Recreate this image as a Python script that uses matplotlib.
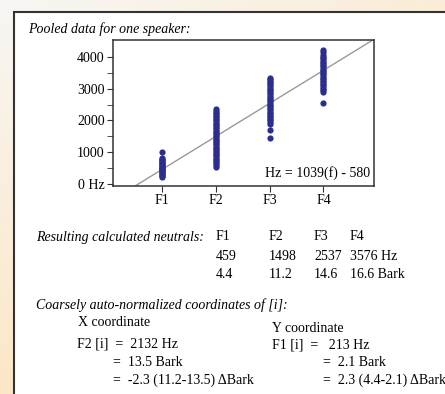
#!/usr/bin/env python
# Pooled formant data for one speaker, with fitted neutral line
import numpy as np
import matplotlib
matplotlib.use("Agg")
import matplotlib.pyplot as plt
from matplotlib.patches import Rectangle

plt.rcParams['font.family'] = ['Liberation Serif', 'DejaVu Serif']

formants = ['F1', 'F2', 'F3', 'F4']
f1_hz = [220, 250, 280, 310, 340, 370, 400, 430, 460, 490, 520, 550, 580,
         610, 640, 670, 700, 730, 760, 790, 820, 1000]
f2_hz = [550, 600, 650, 700, 750, 800, 850, 900, 950, 1000, 1050, 1100, 1150,
         1200, 1250, 1300, 1350, 1400, 1450, 1500, 1550, 1600, 1650, 1700,
         1750, 1800, 1850, 1900, 1950, 2000, 2050, 2100, 2150, 2200, 2250,
         2300, 2350]
f3_hz = [1450, 1700, 1900, 1950, 2000, 2050, 2100, 2150, 2200, 2250, 2300,
         2350, 2400, 2450, 2500, 2550, 2600, 2650, 2700, 2750, 2800, 2850,
         2900, 2950, 3000, 3050, 3100, 3150, 3200, 3250, 3300, 3350]
f4_hz = [2550, 2900, 2950, 3000, 3050, 3100, 3150, 3200, 3250, 3300, 3350,
         3400, 3450, 3500, 3550, 3600, 3650, 3700, 3750, 3800, 3850, 3900,
         3950, 4000, 4050, 4150, 4200]
slope, intercept = 1039, -580

neutral_hz = ['459', '1498', '2537', '3576 Hz']
neutral_bark = ['4.4', '11.2', '14.6', '16.6 Bark']

W, H = 445, 394
fig = plt.figure(figsize=(W / 100, H / 100), dpi=100)

# background gradient
bg = fig.add_axes([0, 0, 1, 1], zorder=-2)
xx, yy = np.meshgrid(np.linspace(0, 1, 200), np.linspace(0, 1, 200))
t = np.clip(0.55 * xx + 0.9 * yy, 0, 1)[..., None]
c0 = np.array([0.97, 0.965, 0.955])
c1 = np.array([0.99, 0.90, 0.76])
bg.imshow(c0 * (1 - t) + c1 * t, aspect='auto', extent=[0, 1, 0, 1])
bg.axis('off')

# white panel
fig.patches.append(Rectangle((14 / W, -0.1), 1.2, 1.1 - 12 / H, transform=fig.transFigure,
                             facecolor='white', edgecolor='#333333', lw=1.5, zorder=-1))

ax = fig.add_axes([113 / W, 1 - 186 / H, (374 - 113) / W, (186 - 40) / H])
for i, vals in enumerate([f1_hz, f2_hz, f3_hz, f4_hz]):
    ax.scatter([i + 1] * len(vals), vals, s=20, color='#2b2e8c', zorder=3, linewidths=0)
xs = np.array([0, 6])
ax.plot(xs, slope * xs + intercept, color='#999999', lw=1, zorder=2)
ax.set_xlim(0.09, 4.94)
ax.set_ylim(-60, 4530)
ax.set_xticks([1, 2, 3, 4])
ax.set_xticklabels(formants)
ax.set_yticks([0, 1000, 2000, 3000, 4000])
ax.set_yticklabels(['0 Hz', '1000', '2000', '3000', '4000'])
ax.set_yticks([500, 1500, 2500, 3500], minor=True)
ax.tick_params(labelsize=10, color='#333333', length=4, pad=2)
ax.tick_params(which='minor', length=4, color='#333333')
for s in ax.spines.values():
    s.set_color('#333333')
    s.set_linewidth(1.1)
ax.text(0.985, 0.04, 'Hz = 1039(f) - 580', transform=ax.transAxes, ha='right',
        va='bottom', fontsize=10)


def txt(x, y, s, **kw):
    fig.text(x / W, 1 - y / H, s, va='center', fontsize=10, **kw)


txt(28, 29, 'Pooled data for one speaker:', style='italic')
txt(36, 237, 'Resulting calculated neutrals:', style='italic')
cols = [216, 269, 314, 350]
for i, c in enumerate(cols):
    txt(c, 237, formants[i])
    txt(c, 256, neutral_hz[i])
    txt(c, 275, neutral_bark[i])
txt(36, 305, 'Coarsely auto-normalized coordinates of [i]:', style='italic')
txt(78, 323, 'X coordinate')
txt(77, 344, 'F2 [i]  =  2132 Hz')
txt(113, 362, '=  13.5 Bark')
txt(113, 380, '=  -2.3 (11.2-13.5) ΔBark')
txt(272, 328, 'Y coordinate')
txt(272, 345, 'F1 [i]  =   213 Hz')
txt(323, 362, '=  2.1 Bark')
txt(323, 380, '=  2.3 (4.4-2.1) ΔBark')

fig.savefig('out.png', dpi=100)
